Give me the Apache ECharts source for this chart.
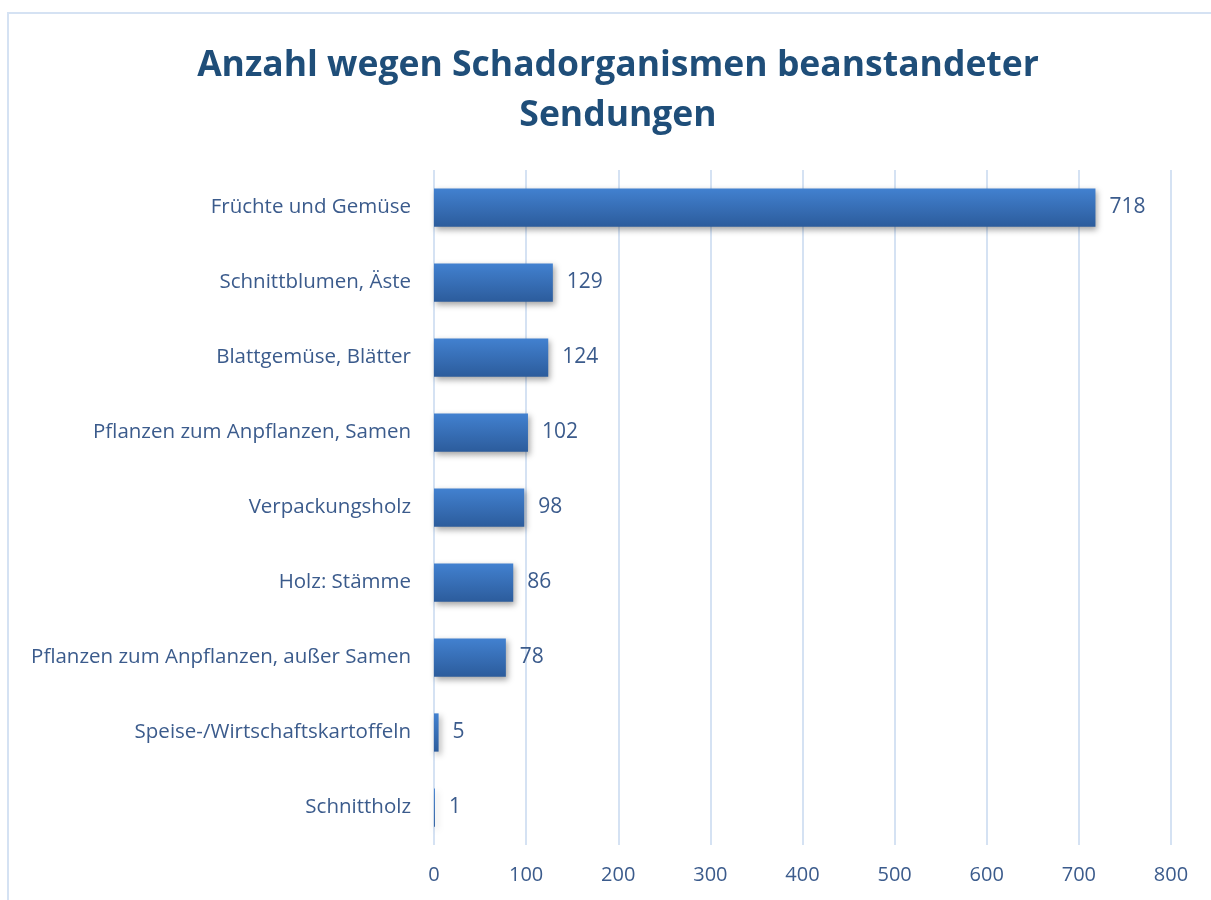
<!DOCTYPE html>
<html>
<head>
    <meta charset="utf-8">
    <title>ECharts</title>
    <script src="https://cdn.jsdelivr.net/npm/echarts@6/dist/echarts.min.js"></script>
    <style>
        html, body { margin: 0; padding: 0; background: #fff; }
    </style>
</head>
<body>
    <div id="main" style="width: 1211px;height:900px;"></div>
    <script type="text/javascript">
        // categories top -> bottom
        var categories = [
            'Früchte und Gemüse',
            'Schnittblumen, Äste',
            'Blattgemüse, Blätter',
            'Pflanzen zum Anpflanzen, Samen',
            'Verpackungsholz',
            'Holz: Stämme',
            'Pflanzen zum Anpflanzen, außer Samen',
            'Speise-/Wirtschaftskartoffeln',
            'Schnittholz'
        ];
        var values = [718, 129, 124, 102, 98, 86, 78, 5, 1];
        var xTicks = [0, 100, 200, 300, 400, 500, 600, 700, 800];

        var textColor = '#3b5b8c';
        var fontName = 'Open Sans';

        var myChart = echarts.init(document.getElementById('main'));

        var option = {
            backgroundColor: '#fff',
            title: {
                text: 'Anzahl wegen Schadorganismen beanstandeter\nSendungen',
                left: 613,
                textAlign: 'center',
                top: 36,
                textStyle: {
                    fontFamily: fontName,
                    fontWeight: 'bold',
                    fontSize: 35.5,
                    lineHeight: 50,
                    color: '#1f4e79'
                }
            },
            graphic: [{
                type: 'rect',
                shape: { x: 8, y: 13, width: 1300, height: 1000 },
                style: { fill: 'none', stroke: '#d5e2f3', lineWidth: 2 },
                silent: true
            }],
            grid: {
                left: 434,
                right: 40,
                top: 170,
                bottom: 55,
                containLabel: false
            },
            xAxis: {
                type: 'value',
                min: xTicks[0],
                max: xTicks[xTicks.length - 1],
                interval: 100,
                axisLine: { show: false },
                axisTick: { show: false },
                splitLine: { lineStyle: { color: '#d5e2f3', width: 2 } },
                axisLabel: {
                    color: textColor,
                    fontFamily: fontName,
                    fontSize: 20,
                    margin: 20
                }
            },
            yAxis: {
                type: 'category',
                data: categories,
                inverse: true,
                axisLine: { show: false },
                axisTick: { show: false },
                axisLabel: {
                    color: textColor,
                    fontFamily: fontName,
                    fontSize: 20.5,
                    margin: 23
                }
            },
            series: [{
                type: 'bar',
                data: values,
                barCategoryGap: '49%',
                itemStyle: {
                    color: new echarts.graphic.LinearGradient(0, 0, 0, 1, [
                        { offset: 0, color: '#4281d0' },
                        { offset: 1, color: '#2c5c9c' }
                    ]),
                    shadowColor: 'rgba(0,0,0,0.35)',
                    shadowBlur: 6,
                    shadowOffsetX: 2,
                    shadowOffsetY: 3
                },
                label: {
                    show: true,
                    position: 'right',
                    distance: 14,
                    color: textColor,
                    fontFamily: fontName,
                    fontSize: 21
                }
            }]
        };
        myChart.setOption(option);
    </script>
</body>
</html>
